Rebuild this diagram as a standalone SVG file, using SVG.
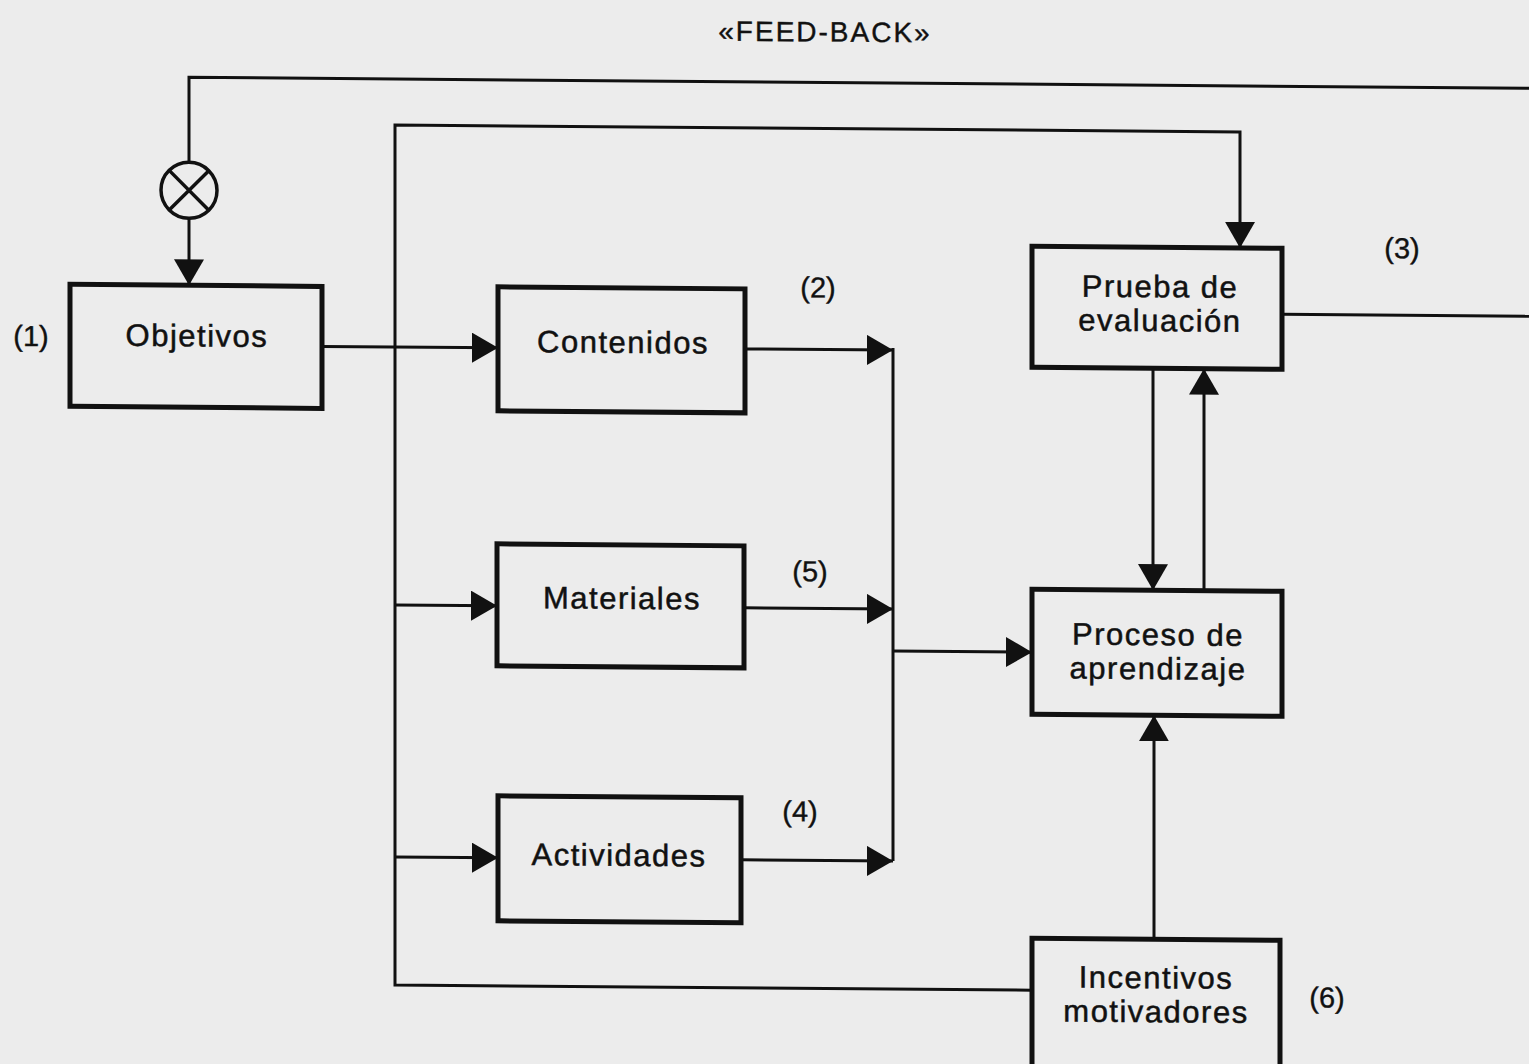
<svg xmlns="http://www.w3.org/2000/svg" width="1529" height="1064" viewBox="0 0 1529 1064">
  <defs>
    <style>
      .box { fill: none; stroke: #111; stroke-width: 5; }
      .conn { fill: none; stroke: #111; stroke-width: 3; }
      .lbl { font-family: "Liberation Sans", Arial, sans-serif; font-size: 31px; fill: #111; stroke: #111; stroke-width: 0.5px; text-anchor: middle; letter-spacing: 1.5px; }
      .num { font-family: "Liberation Sans", Arial, sans-serif; font-size: 29px; fill: #111; stroke: #111; stroke-width: 0.4px; text-anchor: middle; }
      .title { font-family: "Liberation Sans", Arial, sans-serif; font-size: 28px; fill: #111; stroke: #111; stroke-width: 0.4px; text-anchor: middle; letter-spacing: 2px; }
    </style>
    <marker id="arr" markerUnits="userSpaceOnUse" markerWidth="28" markerHeight="32" refX="26" refY="15" orient="auto">
      <path d="M0,0 L26,15 L0,30 z" fill="#111"/>
    </marker>
  </defs>
  <rect x="0" y="0" width="1529" height="1064" fill="#ececec"/>
  <g transform="translate(760 0) skewY(0.47) translate(-760 0)">
    <text class="title" x="825" y="41">«FEED-BACK»</text>

    <g id="connectors">
      <path class="conn" d="M1545,82 H189 V167"/>
      <path class="conn" d="M189,223 V290" marker-end="url(#arr)"/>
      <path class="conn" d="M1032,988 H395 V128 H1240 V244" marker-end="url(#arr)"/>
      <path class="conn" d="M322,350 H498" marker-end="url(#arr)"/>
      <path class="conn" d="M745,349 H893" marker-end="url(#arr)"/>
      <path class="conn" d="M395,608 H497" marker-end="url(#arr)"/>
      <path class="conn" d="M395,860 H498" marker-end="url(#arr)"/>
      <path class="conn" d="M744,608 H893" marker-end="url(#arr)"/>
      <path class="conn" d="M741,860 H893" marker-end="url(#arr)"/>
      <path class="conn" d="M893,347 V860"/>
      <path class="conn" d="M893,650 H1032" marker-end="url(#arr)"/>
      <path class="conn" d="M1153,365 V587" marker-end="url(#arr)"/>
      <path class="conn" d="M1204,587 V365" marker-end="url(#arr)"/>
      <path class="conn" d="M1154,936 V712" marker-end="url(#arr)"/>
      <path class="conn" d="M1282,310 H1545"/>
    </g>

    <g id="sum-junction">
      <circle cx="189" cy="195" r="28" fill="none" stroke="#111" stroke-width="3.5"/>
      <path d="M169.2,175.2 L208.8,214.8 M208.8,175.2 L169.2,214.8" stroke="#111" stroke-width="3.5" fill="none"/>
    </g>

    <g id="objetivos">
      <rect class="box" x="70" y="290" width="252" height="122"/>
      <text class="lbl" x="197" y="351">Objetivos</text>
      <text class="num" x="31" y="352">(1)</text>
    </g>

    <g id="contenidos">
      <rect class="box" x="498" y="289" width="247" height="124"/>
      <text class="lbl" x="623" y="354">Contenidos</text>
      <text class="num" x="818" y="297">(2)</text>
    </g>

    <g id="materiales">
      <rect class="box" x="497" y="546" width="247" height="122"/>
      <text class="lbl" x="622" y="610">Materiales</text>
      <text class="num" x="810" y="581">(5)</text>
    </g>

    <g id="actividades">
      <rect class="box" x="498" y="798" width="243" height="125"/>
      <text class="lbl" x="619" y="867">Actividades</text>
      <text class="num" x="800" y="821">(4)</text>
    </g>

    <g id="prueba">
      <rect class="box" x="1032" y="244" width="250" height="121"/>
      <text class="lbl" x="1160" y="294">Prueba de</text>
      <text class="lbl" x="1160" y="328">evaluación</text>
      <text class="num" x="1402" y="253">(3)</text>
    </g>

    <g id="proceso">
      <rect class="box" x="1032" y="587" width="250" height="125"/>
      <text class="lbl" x="1158" y="642">Proceso de</text>
      <text class="lbl" x="1158" y="676">aprendizaje</text>
    </g>

    <g id="incentivos">
      <rect class="box" x="1032" y="936" width="248" height="140"/>
      <text class="lbl" x="1156" y="985">Incentivos</text>
      <text class="lbl" x="1156" y="1019">motivadores</text>
      <text class="num" x="1327" y="1003">(6)</text>
    </g>
  </g>
</svg>
